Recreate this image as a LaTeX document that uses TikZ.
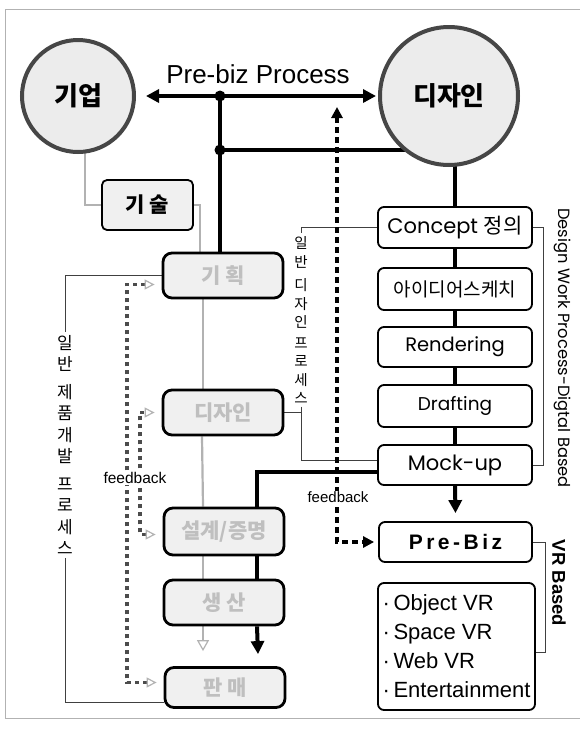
\documentclass[tikz,border=0pt]{standalone}
\usepackage{fontspec}
\setmainfont{Liberation Sans}
\newfontfamily\kr{Noto Sans CJK KR}
\newfontfamily\geo{Poppins}
\usetikzlibrary{positioning}
\usetikzlibrary{calc}
\usetikzlibrary{arrows.meta}
\usetikzlibrary{backgrounds}
\newcommand{\fs}[1]{\fontsize{#1}{#1}\selectfont}

\tikzset{
  orgcircle/.style={circle, draw=gray!55!black, line width=4pt, fill=gray!15, inner sep=0pt, font=\kr\bfseries\fs{26}},
  stepbox/.style={draw, rounded corners=6pt, line width=1.8pt, fill=white, minimum width=154pt, minimum height=41pt, inner sep=0pt},
  oldbox/.style={draw, rounded corners=9pt, line width=2.8pt, fill=gray!12, minimum width=120pt, minimum height=45pt, inner sep=0pt, text=gray!50, font=\kr\bfseries\fs{21}},
  mainline/.style={line width=4pt},
  grayline/.style={draw=gray!60, line width=2.2pt},
  thinline/.style={line width=0.9pt, draw=black!75},
  fbdash/.style={line width=4pt, dash pattern=on 6pt off 4pt},
  oldfb/.style={line width=3.2pt, draw=black!70, dash pattern=on 4pt off 4pt},
  bigtip/.style={-{Triangle[length=13pt,width=13pt]}},
  hollowtip/.style={{Triangle[open,length=10pt,width=10pt,line width=1.2pt,color=gray!60]}-{Triangle[open,length=10pt,width=10pt,line width=1.2pt,color=gray!60]}},
}

\begin{document}
\begin{tikzpicture}[x=1pt, y=-1pt]
    \useasboundingbox (0,0) rectangle (584,729);
    % frame
    \draw[gray!60, line width=1pt] (5,718) -- (5,9) -- (580,9);
    \draw[gray!60, line width=1pt] (5,718) -- (580,718);

    % the two parties
    \node[orgcircle, minimum size=112pt] (gieop) at (78,96) {기업};
    \node[orgcircle, minimum size=138pt] (design) at (449,96) {디자인};
    \node[font=\fs{26}] (pbtext) at (258,74) {Pre-biz Process};
    \coordinate (j1) at (220,96);
    \coordinate (j2) at (220,150);
    \fill (j1) circle[radius=5.5];
    \fill (j2) circle[radius=5.5];

    % general product development
    \node[draw, rounded corners=5pt, line width=1.8pt, fill=gray!12, minimum width=91pt, minimum height=50pt, inner sep=0pt, font=\kr\bfseries\fs{21}] (gisul) at (147.5,205) {기 술};
    \node[oldbox] (plan) at (223,275.5) {기 획};
    \node[oldbox] (ldesign) at (223,412.5) {디자인};
    \node[oldbox, minimum height=47pt] (eng) at (224,531.5) {설계/증명};
    \node[oldbox] (prod) at (224,602.5) {생 산};
    \node[oldbox, minimum height=40pt] (sales) at (225,687.5) {판 매};
    \node[font=\kr\fontsize{17}{21.5}\selectfont, align=center, inner sep=3pt] (gentext) at (65,445) {일\\반\\[6pt]제\\품\\개\\발\\[6pt]프\\로\\세\\스};

    % design work process
    \node[stepbox, font=\fs{21}] (concept) at (455,227.5) {{\geo Concept} {\kr 정의}};
    \node[stepbox, minimum height=42pt, font=\kr\fs{19}] (idea) at (455,289) {아이디어스케치};
    \node[stepbox, minimum height=40pt, font=\geo\fs{19.5}] (render) at (455,347) {Rendering};
    \node[stepbox, minimum height=42pt, font=\geo\fs{18.5}] (draft) at (455,406) {Drafting};
    \node[stepbox, minimum height=40pt, font=\geo\fs{21}] (mock) at (455,465) {Mock-up};
    \node[font=\kr\fontsize{14.5}{18.5}\selectfont, align=center, inner sep=3pt] (dtext) at (301,320) {일\\반\\[5pt]디\\자\\인\\[2pt]프\\로\\세\\스};
    \node[rotate=-90, font=\geo\fs{16.3}] (dwtext) at (562,348) {Design Work Process-Digtal Based};

    % VR based pre-biz
    \node[stepbox, minimum width=153pt, minimum height=40pt, font=\bfseries\fs{21}] (prebiz) at (455.5,542) {P\,r\,e\,-\,B\,i\,z};
    \node[stepbox, minimum width=157pt, minimum height=127pt, align=left, font=\fontsize{22}{29}\selectfont] (vrlist) at (456.5,646.5) {·\,Object VR\\·\,Space VR\\·\,Web VR\\·\,Entertainment};
    \node[rotate=-90, font=\bfseries\fs{18.5}] (vrtext) at (559,583) {VR Based};

    \node[fill=white, inner sep=1pt, font=\fs{15.5}] (fbleft) at (135,478) {feedback};
    \node[fill=white, inner sep=1pt, font=\fs{15}] (fbright) at (338,497) {feedback};

    \coordinate (fbtop) at (337,107);
    \coordinate (fbo) at (127,0);
    \coordinate (fbi) at (140,0);
    \coordinate (fbplan) at ([xshift=-7pt,yshift=-9pt]plan.west);
    \coordinate (fbsales) at ([xshift=-7pt,yshift=5pt]sales.west);
    \coordinate (fbdes) at ([xshift=-7pt]ldesign.west);
    \coordinate (fbeng) at ([xshift=-7pt,yshift=-3pt]eng.west);

    \begin{scope}[on background layer]
        \draw[mainline, {Triangle[length=13pt,width=13pt]}-{Triangle[length=13pt,width=13pt]}] ([xshift=10pt]gieop.east) -- ([xshift=-2pt]design.west);
        \draw[mainline] (j1) -- (j1 |- plan.north);
        \draw[mainline] (j2) -- (j2 -| design.center);
        \draw[mainline] (concept.north) -- (concept.north |- design.center);
        \foreach \a/\b in {concept/idea, idea/render, render/draft, draft/mock}
            \draw[mainline] (\a.south) -- (\b.north);
        \draw[mainline, bigtip] (mock.south) -- ([yshift=8pt]prebiz.north);
        \draw[mainline] ([yshift=-7pt]mock.west) -| ([xshift=33pt]eng.north);
        \draw[mainline] ([xshift=33pt]eng.south) -- ([xshift=33pt]prod.north);
        \draw[mainline, bigtip] ([xshift=33pt]prod.south) -- ([xshift=33pt,yshift=12pt]sales.north);

        \draw[grayline] ([xshift=7pt]gieop.center) |- (gisul.west);
        \draw[grayline] (gisul.east) -| ([xshift=-23pt]plan.north);
        \draw[grayline] ([xshift=-20pt]plan.south) -- ([xshift=-20pt]ldesign.north);
        \draw[grayline] ([xshift=-21pt]ldesign.south) -- ([xshift=-21pt]eng.north);
        \draw[grayline] ([xshift=-21pt]eng.south) -- ([xshift=-21pt]prod.north);
        \draw[grayline, -{Triangle[open,length=11pt,width=12pt,line width=1.2pt]}] ([xshift=-21pt]prod.south) -- ([xshift=-22pt,yshift=15pt]sales.north);

        \draw[thinline] (plan.west) -| (gentext.north);
        \draw[thinline] (gentext.south) |- ([yshift=-15pt]sales.west);
        \draw[thinline] (concept.west) -| (dtext.north);
        \draw[thinline] (dtext.south) |- ([yshift=5pt]mock.west);
        \draw[thinline] (ldesign.east) -- (ldesign.east -| dtext.south);
        \draw[thinline] (concept.east) -- ++(11,0) |- (mock.east);
        \draw[thinline] (prebiz.east) -- ++(13,0) |- ([yshift=-6pt]vrlist.east);

        \draw[fbdash, {Triangle[length=11pt,width=11pt]}-{Triangle[length=11pt,width=11pt]}] (fbtop) |- ([xshift=-4pt]prebiz.west);
        \draw[oldfb, hollowtip] (fbsales) -| (fbo |- fbplan) -- (fbplan);
        \draw[oldfb, hollowtip] (fbeng) -| (fbi |- fbdes) -- (fbdes);
    \end{scope}
\end{tikzpicture}
\end{document}
